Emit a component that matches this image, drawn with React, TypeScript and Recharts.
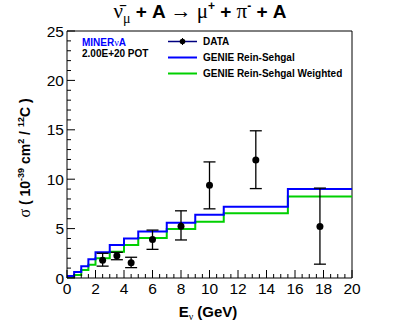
import React from "react";
import {
  ComposedChart,
  Line,
  Scatter,
  ErrorBar,
  XAxis,
  YAxis,
  ReferenceLine,
} from "recharts";

// histogram bin edges (GeV) and MC predictions per bin
const binEdges = [0, 0.5, 1, 1.5, 2, 3, 4, 5, 7, 9, 11, 15.5, 20];
const genieRS = [0.2, 0.6, 1.2, 1.9, 2.6, 3.35, 4.0, 4.7, 5.6, 6.4, 7.2, 9.0];
const genieRSWeighted = [0.05, 0.3, 0.8, 1.35, 2.0, 2.65, 3.35, 4.05, 4.95, 5.7, 6.55, 8.25];

// measured points
const dataE = [2.5, 3.5, 4.5, 6, 8, 10, 13.25, 17.75];
const dataXsec = [1.8, 2.25, 1.55, 3.9, 5.25, 9.4, 11.95, 5.2];
const errLow = [0.6, 0.4, 0.5, 1.0, 1.4, 2.4, 2.9, 3.8];
const errHigh = [0.7, 0.35, 0.55, 0.95, 1.55, 2.35, 2.95, 3.9];

const xMajor = [0, 2, 4, 6, 8, 10, 12, 14, 16, 18, 20];
const xTicks = Array.from({ length: 41 }, (_, i) => i * 0.5);
const yMajor = [0, 5, 10, 15, 20, 25];
const yTicks = Array.from({ length: 26 }, (_, i) => i);

const W = 407;
const H = 328;
const FONT = "'Liberation Sans', Arial, Helvetica, sans-serif";
const SERIF = "'Liberation Serif', 'DejaVu Serif', serif";
const BLUE = "#0000ff";
const GREEN = "#00d000";

const toSteps = (vals: number[]) => {
  const pts = [{ x: binEdges[0], y: 0 }];
  vals.forEach((v, i) => pts.push({ x: binEdges[i], y: v }));
  pts.push({ x: binEdges[binEdges.length - 1], y: vals[vals.length - 1] });
  return pts;
};

const rsSteps = toSteps(genieRS);
const rswSteps = toSteps(genieRSWeighted);
const points = dataE.map((x, i) => ({
  x,
  y: dataXsec[i],
  err: [errLow[i], errHigh[i]],
}));

const XTick = (props: any) => {
  const { x, y, payload } = props;
  const major = xMajor.includes(payload.value);
  return (
    <g>
      <line x1={x} y1={y} x2={x} y2={y - (major ? 8 : 4)} stroke="#000" />
      {major && (
        <text x={x} y={y + 16} textAnchor="middle" fontSize={15.5} fontFamily={FONT} fill="#000">
          {payload.value}
        </text>
      )}
    </g>
  );
};

const YTick = (props: any) => {
  const { x, y, payload } = props;
  const major = yMajor.includes(payload.value);
  return (
    <g>
      <line x1={x} y1={y} x2={x + (major ? 8 : 4)} y2={y} stroke="#000" />
      {major && (
        <text x={x - 3} y={y + 5.5} textAnchor="end" fontSize={15.5} fontFamily={FONT} fill="#000">
          {payload.value}
        </text>
      )}
    </g>
  );
};

const Dot = (props: any) => <circle cx={props.cx} cy={props.cy} r={3.5} fill="#000" />;

export default function App() {
  return (
    <div style={{ position: "absolute", left: 0, top: 0, width: W, height: H, background: "#fff" }}>
      <ComposedChart width={W} height={H} margin={{ top: 31, right: 55, left: 0, bottom: 0 }}>
        <XAxis
          dataKey="x"
          type="number"
          domain={[0, 20]}
          ticks={xTicks}
          interval={0}
          tickSize={0}
          tickMargin={0}
          tick={<XTick />}
          tickLine={false}
          height={50}
          stroke="#000"
          allowDataOverflow
        />
        <YAxis
          type="number"
          domain={[0, 25]}
          ticks={yTicks}
          interval={0}
          tickSize={0}
          tickMargin={0}
          tick={<YTick />}
          tickLine={false}
          width={67}
          stroke="#000"
          allowDataOverflow
        />
        <ReferenceLine y={25} stroke="#000" />
        <ReferenceLine x={20} stroke="#000" />
        <Line
          data={rswSteps}
          dataKey="y"
          type="stepAfter"
          stroke={GREEN}
          strokeWidth={2}
          dot={false}
          isAnimationActive={false}
        />
        <Line
          data={rsSteps}
          dataKey="y"
          type="stepAfter"
          stroke={BLUE}
          strokeWidth={2}
          dot={false}
          isAnimationActive={false}
        />
        <Scatter data={points} dataKey="y" shape={<Dot />} isAnimationActive={false}>
          <ErrorBar dataKey="err" direction="y" width={6} stroke="#000" strokeWidth={1.3} isAnimationActive={false} />
        </Scatter>
      </ComposedChart>
      <svg width={W} height={H} style={{ position: "absolute", left: 0, top: 0, pointerEvents: "none" }}>
        {/* title */}
        <text x={200} y={18} textAnchor="middle" fontSize={19} fontFamily={FONT} fontWeight="bold" fill="#000">
          <tspan fontFamily={SERIF} fontWeight="normal" fontSize={21}>ν̄</tspan>
          <tspan fontFamily={SERIF} fontWeight="normal" fontSize={14} dy={5}>μ</tspan>
          <tspan dy={-5}> + A </tspan>
          <tspan fontFamily={SERIF} fontWeight="normal" fontSize={21}> → μ</tspan>
          <tspan fontSize={12} dy={-8}>+</tspan>
          <tspan dy={8}> + </tspan>
          <tspan fontFamily={SERIF} fontWeight="normal" fontSize={21}>π</tspan>
          <tspan fontSize={12} dy={-8}>-</tspan>
          <tspan dy={8}> + A</tspan>
        </text>
        {/* y title */}
        <text
          transform="translate(30,158) rotate(-90)"
          textAnchor="middle"
          fontSize={14}
          fontFamily={FONT}
          fontWeight="bold"
          fill="#000"
        >
          <tspan fontFamily={SERIF} fontWeight="normal" fontSize={16}>σ</tspan>
          <tspan> ( 10</tspan>
          <tspan fontSize={9} dy={-6}>-39</tspan>
          <tspan dy={6}> cm</tspan>
          <tspan fontSize={9} dy={-6}>2</tspan>
          <tspan dy={6}> / </tspan>
          <tspan fontSize={9} dy={-6}>12</tspan>
          <tspan dy={6}>C )</tspan>
        </text>
        {/* x title */}
        <text x={208} y={317} textAnchor="middle" fontSize={15} fontFamily={FONT} fontWeight="bold" fill="#000">
          <tspan>E</tspan>
          <tspan fontSize={10} dy={3} fontFamily={SERIF} fontWeight="normal">ν</tspan>
          <tspan dy={-3}> (GeV)</tspan>
        </text>
        {/* experiment labels */}
        <text x={82} y={46} fontSize={10} fontFamily={FONT} fontWeight="bold" fill={BLUE}>
          MINER<tspan fontFamily={SERIF} fontWeight="normal">ν</tspan>A
        </text>
        <text x={82} y={57} fontSize={10} fontFamily={FONT} fontWeight="bold" fill="#000">
          2.00E+20 POT
        </text>
        {/* legend */}
        <line x1={168} y1={41.5} x2={197} y2={41.5} stroke="#000080" strokeWidth={1.5} />
        <line x1={182.5} y1={38} x2={182.5} y2={45} stroke="#000" strokeWidth={1} />
        <circle cx={182.5} cy={41.5} r={2.8} fill="#000" />
        <text x={203} y={45} fontSize={10} fontFamily={FONT} fontWeight="bold" fill="#000">DATA</text>
        <line x1={168} y1={57.5} x2={197} y2={57.5} stroke={BLUE} strokeWidth={2} />
        <text x={203} y={61} fontSize={10} fontFamily={FONT} fontWeight="bold" fill="#000">GENIE Rein-Sehgal</text>
        <line x1={168} y1={73.5} x2={197} y2={73.5} stroke={GREEN} strokeWidth={2} />
        <text x={203} y={77} fontSize={10} fontFamily={FONT} fontWeight="bold" fill="#000">GENIE Rein-Sehgal Weighted</text>
      </svg>
    </div>
  );
}
